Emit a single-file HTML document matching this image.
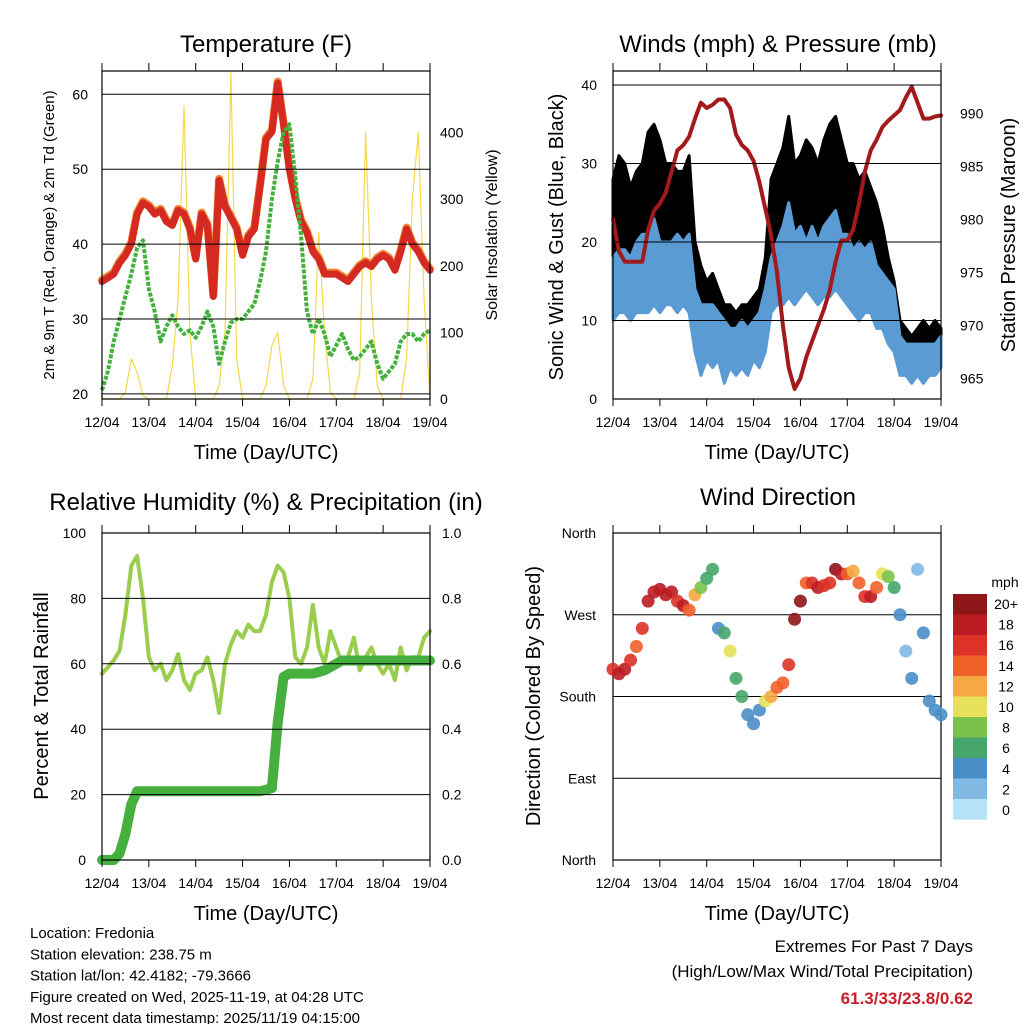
<!DOCTYPE html>
<html><head><meta charset="utf-8"><style>
body{margin:0;background:#fff;}
svg{display:block;font-family:"Liberation Sans",sans-serif;}
</style></head><body>
<svg id="c" width="1024" height="1024" viewBox="0 0 1024 1024" xmlns="http://www.w3.org/2000/svg"></svg>
<script>
// ---- data (3-hourly, 12/04 00Z to 19/04 00Z) ----
const days = ["12/04","13/04","14/04","15/04","16/04","17/04","18/04","19/04"];
const tempF = [35,35.5,36,37.5,38.5,40,44,45.5,45,44,44.5,43,42.5,44.5,44,42,38,44,42.5,33,48.5,45,43.5,42,38.5,41,42,47.8,54,55,61.5,56,50,46,43,41.5,39,38,36,36,36,35.5,35,36,37,37.5,37,38,38.5,38,36.5,39,42,40,39,37.5,36.5];
const dewF = [20.5,23,27,30,33,36,39.5,40.5,34,31,27,29,30.5,29,28,28.5,27.5,29,31,29,24,27,29.5,30,30,31,32,35,39,46,51,55,56,49,41,31,28,30,28,25,26.5,28,26,24.5,25,26,27,24,22,23,24,27,28,28,27,28,28.5];
const solar = [0,0,0,0,10,60,40,5, 0,0,0,0,50,150,440,100, 0,0,0,0,20,100,490,60, 0,0,0,0,20,80,100,20, 0,0,0,0,30,250,100,10, 0,0,0,0,40,400,150,20, 0,0,0,0,60,300,400,150, 0];
const pressure = [980,977,976,976,976,976,979,980.8,981.5,982.5,984.5,986.5,987,987.8,989.5,991,990.5,990.8,991.3,991.3,990.5,988,987,986.5,985.5,983.5,981,978.5,975,970,966,964,965,967,968.5,970,971.5,973.3,976,978,978,979,981.5,984.5,986.5,987.5,988.7,989.3,989.8,990.3,991.5,992.5,991,989.5,989.5,989.7,989.8];
const windLo = [10,11,11,10,11,11,11,12,11,12,12,11,12,11,6,3,5,4,5,2,4,3,4,3,5,4,6,11,12,12,13,12,13,14,13,12,13,13,14,13,12,11,10,11,11,9,9,7,6,3,3,2,3,2,3,3,4];
const windHi = [18,19,19,18,20,21,21,23,20,20,20,21,20,21,14,12,12,12,11,10,9,9,10,9,10,11,14,18,20,22,25,21,22,20,22,20,22,23,24,21,21,19,20,19,20,17,16,15,14,8,7,7,7,7,7,7,8];
const gustLo = [15,17,17,16,16,18,20,20,19,20,19,19,18,19,10,7,10,8,8,5,6,5,6,5,6,6,10,16,18,17,18,18,18,20,20,18,18,19,22,20,18,16,16,17,16,14,12,11,10,5,5,4,5,5,5,5,6];
const gustHi = [28,31,30,27,29,30,34,35,33,30,30,29,29,31,20,17,15,16,14,12,12,11,12,12,13,14,18,28,30,32,36,30,31,33,32,30,33,35,36,33,30,30,28,29,27,25,22,18,15,10,9,8,9,10,9,10,9];
const rh = [57,59,61,64,75,90,93,80,62,58,60,55,58,63,55,52,57,58,62,55,45,60,66,70,68,72,70,70,75,85,90,88,80,62,60,65,78,65,60,70,65,60,62,68,58,62,65,60,57,60,55,65,58,62,62,68,70];
const precip = [0,0,0,0.02,0.08,0.17,0.21,0.21,0.21,0.21,0.21,0.21,0.21,0.21,0.21,0.21,0.21,0.21,0.21,0.21,0.21,0.21,0.21,0.21,0.21,0.21,0.21,0.21,0.215,0.22,0.42,0.56,0.57,0.57,0.57,0.57,0.57,0.575,0.58,0.59,0.60,0.61,0.61,0.61,0.61,0.61,0.61,0.61,0.61,0.61,0.61,0.61,0.61,0.61,0.61,0.61,0.61];
const windDir = [210,205,210,220,235,255,285,295,298,292,295,285,280,275,292,300,310,320,255,250,230,200,180,160,150,165,175,180,190,195,215,265,285,305,305,300,302,305,320,315,315,318,305,290,290,300,315,312,300,270,230,200,320,250,175,165,160];
const windSpd = [16,18,18,16,14,16,18,18,18,18,18,16,18,14,12,9,7,6,4,6,10,7,6,4,4,5,10,13,14,14,16,20,20,14,17,18,16,16,20,18,14,12,14,16,18,14,10,8,6,4,3,4,2,4,4,4,4];
const tempTicks = [20,30,40,50,60];
const solarTicks = [0,100,200,300,400];
const windTicks = [0,10,20,30,40];
const presTicks = [965,970,975,980,985,990];
const rhTicks = [0,20,40,60,80,100];
const rainTicks = ["0.0","0.2","0.4","0.6","0.8","1.0"];
const dirLabels = ["North","East","South","West","North"];
const cbLabels = ["20+","18","16","14","12","10","8","6","4","2","0"];
const cbColors = ["#8e1518","#bb1c22","#dc3227","#ef6129","#f6a843","#e6e05a","#7bc24b","#47a66c","#4a8ec7","#81b9e3","#b6e2f7"];

const NS="http://www.w3.org/2000/svg";
const svg=document.getElementById('c');
function mk(tag,attrs,parent){const e=document.createElementNS(NS,tag);for(const k in attrs)e.setAttribute(k,attrs[k]);(parent||svg).appendChild(e);return e;}
function txt(s,x,y,size,anchor,extra){const e=mk('text',Object.assign({x:x,y:y,'font-size':size,'text-anchor':anchor||'middle',fill:'#000'},extra||{}));e.textContent=s;return e;}

const N=tempF.length;
function panel(x0,x1,y0,y1){return {x0,x1,y0,y1,xt:i=>x0+(x1-x0)*i/(N-1)};}
const P1=panel(102,430,71,399),P2=panel(613,941,71,399),P3=panel(102,430,533,860),P4=panel(613,941,533,860);

const yT=v=>94.3+(60-v)*7.49;
const yS=v=>399-v*0.666;
const yW=v=>399-v*7.85;
const yP=v=>378.3-(v-965)*10.6;
const yR=v=>860-v*3.27;
const yRain=v=>860-v*327;
const yD=v=>860-v*327/360;

function frame(p,name,hlines){
  hlines.forEach(y=>{const l=mk('line',{x1:p.x0,x2:p.x1,y1:y,y2:y,stroke:'#000','stroke-width':1});
  
  });
  const r=mk('rect',{x:p.x0,y:p.y0,width:p.x1-p.x0,height:p.y1-p.y0,fill:'none',stroke:'#000','stroke-width':1.2});
  
  
  days.forEach((d,k)=>{const x=p.x0+(p.x1-p.x0)*k/7;
    const t1=mk('line',{x1:x,x2:x,y1:p.y1,y2:p.y1+7,stroke:'#000'});
    
    
    const t2=mk('line',{x1:x,x2:x,y1:p.y0,y2:p.y0-8,stroke:'#000'});
    
    
    const lb=txt(d,x,p.y1+28,14);
    
    });
  const xt=txt('Time (Day/UTC)',(p.x0+p.x1)/2,p.y1+60,20);
  
  
}
function line(p,vals,fy,color,w,name,extra){
  const pts=vals.map((v,i)=>p.xt(i).toFixed(1)+','+fy(v).toFixed(1)).join(' ');
  const e=mk('polyline',Object.assign({points:pts,fill:'none',stroke:color,'stroke-width':w,'stroke-linejoin':'round','stroke-linecap':'round'},extra||{}));
  
  
  return e;
}
function band(p,lo,hi,fy,color,name){
  const a=hi.map((v,i)=>p.xt(i).toFixed(1)+','+fy(v).toFixed(1));
  const b=lo.map((v,i)=>p.xt(i).toFixed(1)+','+fy(v).toFixed(1)).reverse();
  const e=mk('polygon',{points:a.concat(b).join(' '),fill:color,stroke:color,'stroke-width':3,'stroke-linejoin':'round'});
  
  
}
function ylabel(s,x,y,size,name){const e=txt(s,x,y,size,'middle',{transform:'rotate(-90 '+x+' '+y+')'});
  
  }

// ---- Panel 1: temperature ----
let t=txt('Temperature (F)',266,52,24);


line(P1,solar,yS,'#f5d84a',1.2,'solar-insolation-line');
line(P1,tempF,v=>yT(v)-1.5,'#f08432',8,'temp-9m-line');
line(P1,tempF,yT,'#d42a22',7,'temp-2m-line');
line(P1,dewF,yT,'#46b03f',4,'dewpoint-line',{'stroke-dasharray':'4 1.5','stroke-linecap':'butt'});
frame(P1,'temperature',tempTicks.map(yT));
tempTicks.forEach(v=>{const e=txt(String(v),88,yT(v)+5,14,'end');
  
  });
solarTicks.forEach(v=>{const e=txt(String(v),440,yS(v)+5,14,'start');
  
  });
ylabel('2m & 9m T (Red, Orange) & 2m Td (Green)',54,235,15,'temp-y-axis-title');
ylabel('Solar Insolation (Yellow)',497,235,16,'solar-y-axis-title');

// ---- Panel 2: winds ----
t=txt('Winds (mph) & Pressure (mb)',778,52,24);


band(P2,gustLo,gustHi,yW,'#000','gust-band');
band(P2,windLo,windHi,yW,'#5a9bd3','wind-band');
line(P2,pressure,yP,'#a31a1c',4,'pressure-line');
frame(P2,'winds',windTicks.slice(1).map(yW));
windTicks.forEach(v=>{const e=txt(String(v),597,yW(v)+5,14,'end');
  
  });
presTicks.forEach(v=>{const e=txt(String(v),960,yP(v)+5,14,'start');
  
  });
ylabel('Sonic Wind & Gust (Blue, Black)',563,237,20,'wind-y-axis-title');
ylabel('Station Pressure (Maroon)',1015,235,20,'pressure-y-axis-title');

// ---- Panel 3: RH & precip ----
t=txt('Relative Humidity (%) & Precipitation (in)',266,510,24);


line(P3,rh,yR,'#9acd4e',4,'humidity-line');
line(P3,precip,yRain,'#46b03f',10,'precipitation-line');
frame(P3,'humidity',[20,40,60,80].map(yR));
rhTicks.forEach(v=>{const e=txt(String(v),86,yR(v)+5,14,'end');
  
  });
rainTicks.forEach((s,k)=>{const e=txt(s,442,yRain(k*0.2)+5,14,'start');
  
  });
ylabel('Percent & Total Rainfall',48,696,20,'humidity-y-axis-title');

// ---- Panel 4: wind direction ----
t=txt('Wind Direction',778,505,24);


frame(P4,'direction',[90,180,270].map(yD));
function spdColor(s){let k=Math.min(10,Math.floor(s/2));return cbColors[10-k];}
windDir.forEach((d,i)=>{const c=mk('circle',{cx:P4.xt(i),cy:yD(d),r:6.5,fill:spdColor(windSpd[i]),'fill-opacity':0.9});
  
  });
dirLabels.forEach((s,k)=>{const e=txt(s,596,yD(k*90)+5,14,'end');
  
  });
ylabel('Direction (Colored By Speed)',540,696,20,'direction-y-axis-title');
t=txt('mph',1005,587,14);


cbColors.forEach((c,k)=>{const r=mk('rect',{x:953,y:594+k*20.5,width:34,height:20.6,fill:c});
  
  
  const e=txt(cbLabels[k],1006,609+k*20.6,14);
  
  });

// ---- footer ----
["Location: Fredonia","Station elevation: 238.75 m","Station lat/lon: 42.4182; -79.3666","Figure created on Wed, 2025-11-19, at 04:28 UTC","Most recent data timestamp: 2025/11/19 04:15:00"].forEach((s,k)=>{
  const e=txt(s,30,938+k*21.3,15,'start');
  
  });
t=txt('Extremes For Past 7 Days',973,952,17,'end');


t=txt('(High/Low/Max Wind/Total Precipitation)',973,977,17,'end');


t=txt('61.3/33/23.8/0.62',973,1004,17,'end',{fill:'#c8202c','font-weight':'bold'});


</script>
</body></html>
